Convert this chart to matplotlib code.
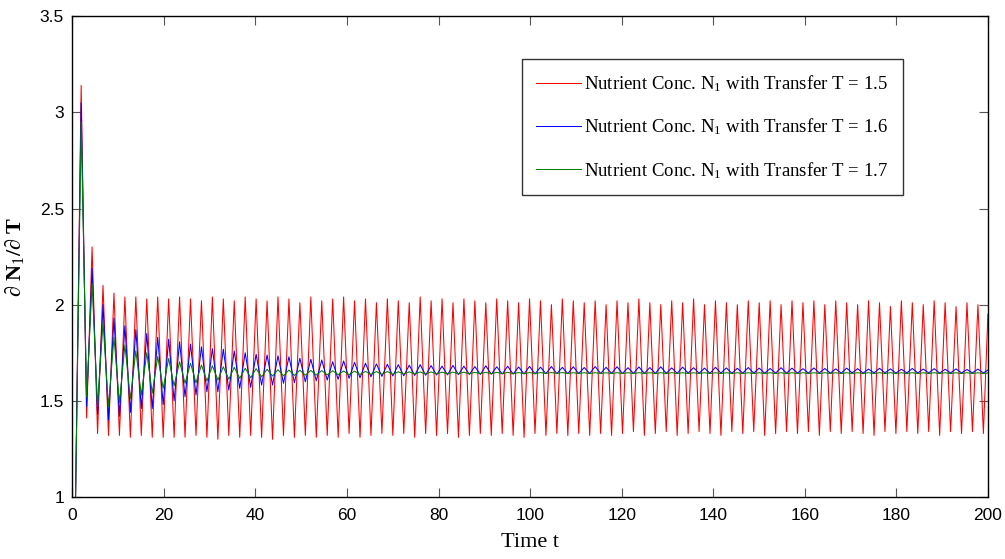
import numpy as np
import matplotlib.pyplot as plt

plt.rcParams['mathtext.fontset'] = 'custom'
plt.rcParams['mathtext.rm'] = 'Liberation Serif'
plt.rcParams['mathtext.it'] = 'Liberation Serif:italic'
plt.rcParams['mathtext.bf'] = 'Liberation Serif:bold'

# extrema of the oscillations: first peak time and period (time units)
first_peak = 1.92
period = 2.389
t_start, t_end = 0.7, 200.0

# peak / trough values for T = 1.5
red_peaks = [3.14, 2.30, 2.10, 2.06, 2.04, 2.04, 2.03, 2.04, 2.03,
             2.04, 2.03, 2.02, 2.04, 2.03, 2.02, 2.04, 2.03, 2.02, 2.04,
             2.03, 2.01, 2.04, 2.02, 2.03, 2.04, 2.02, 2.03, 2.01,
             2.03, 2.02, 2.01, 2.04, 2.02, 2.03, 2.01, 2.03, 2.02, 2.01,
             2.03, 2.02, 2.01, 2.03, 2.02, 2.00, 2.03, 2.02, 2.01,
             2.02, 2.00, 2.02, 2.01, 2.03, 2.01, 2.00, 2.02, 2.01, 2.03,
             2.00, 2.02, 2.01, 2.00, 2.02, 2.01, 2.02, 2.00,
             2.02, 2.01, 2.02, 2.00, 2.02, 2.01, 2.00, 2.02, 2.01, 1.99,
             2.02, 2.01, 2.00, 2.02, 2.01, 1.99, 2.01, 2.00]
red_troughs = [1.41, 1.33, 1.32, 1.32, 1.31, 1.32, 1.31, 1.31, 1.31,
               1.31, 1.32, 1.31, 1.30, 1.32, 1.31, 1.32, 1.31, 1.30, 1.32,
               1.31, 1.32, 1.31, 1.32, 1.31, 1.33, 1.31, 1.32, 1.33,
               1.32, 1.33, 1.31, 1.33, 1.32, 1.33, 1.31, 1.32, 1.33, 1.32,
               1.33, 1.32, 1.31, 1.33, 1.32, 1.33, 1.32, 1.33, 1.32,
               1.33, 1.32, 1.33, 1.34, 1.32, 1.33, 1.34, 1.32, 1.33, 1.34,
               1.33, 1.32, 1.34, 1.33, 1.34, 1.32, 1.33, 1.34,
               1.33, 1.34, 1.32, 1.34, 1.33, 1.34, 1.33, 1.32, 1.34, 1.33,
               1.34, 1.33, 1.34, 1.32, 1.34, 1.33, 1.34, 1.33]

# peak / trough values for T = 1.6
blue_peaks = [3.05, 2.19, 2.00, 1.93, 1.89, 1.87, 1.85, 1.83, 1.82,
              1.807, 1.795, 1.781, 1.771, 1.768, 1.759, 1.750, 1.742, 1.738, 1.734,
              1.729, 1.721, 1.716, 1.712, 1.703, 1.707, 1.700, 1.695, 1.692,
              1.690, 1.688, 1.685, 1.688, 1.683, 1.680, 1.684, 1.680, 1.678, 1.682,
              1.677, 1.680, 1.676, 1.679, 1.675, 1.678, 1.674, 1.677, 1.673,
              1.678, 1.674, 1.677, 1.672, 1.676, 1.673, 1.677, 1.671, 1.675, 1.672,
              1.670, 1.674, 1.671, 1.669, 1.673, 1.670, 1.668, 1.672,
              1.670, 1.667, 1.671, 1.668, 1.666, 1.670, 1.667, 1.665, 1.669, 1.666,
              1.664, 1.668, 1.665, 1.667, 1.664, 1.666, 1.663, 1.665]
blue_troughs = [1.47, 1.43, 1.40, 1.42, 1.44, 1.46, 1.46, 1.48, 1.50,
                1.521, 1.530, 1.547, 1.547, 1.556, 1.565, 1.570, 1.582, 1.582, 1.591,
                1.594, 1.599, 1.604, 1.608, 1.612, 1.617, 1.620, 1.625, 1.627,
                1.629, 1.630, 1.632, 1.633, 1.634, 1.635, 1.636, 1.637, 1.637, 1.638,
                1.639, 1.639, 1.640, 1.640, 1.641, 1.641, 1.641, 1.642, 1.642,
                1.642, 1.643, 1.642, 1.643, 1.643, 1.642, 1.643, 1.643, 1.644, 1.643,
                1.643, 1.644, 1.643, 1.644, 1.644, 1.643, 1.644, 1.644,
                1.644, 1.644, 1.645, 1.644, 1.644, 1.645, 1.644, 1.645, 1.645, 1.644,
                1.645, 1.645, 1.645, 1.644, 1.645, 1.645, 1.645, 1.645]

# peak / trough values for T = 1.7
green_peaks = [2.95, 2.11, 1.91, 1.83, 1.79, 1.76, 1.75, 1.73, 1.72,
               1.703, 1.695, 1.686, 1.682, 1.677, 1.674, 1.669, 1.667, 1.664, 1.662,
               1.660, 1.659, 1.658, 1.657, 1.656, 1.655, 1.654, 1.653, 1.652,
               1.652, 1.651, 1.651, 1.650, 1.650, 1.649, 1.649, 1.649, 1.648, 1.648,
               1.648, 1.648, 1.647, 1.647, 1.647, 1.647, 1.647, 1.646, 1.646,
               1.646, 1.646, 1.646, 1.646, 1.646, 1.646, 1.646, 1.646, 1.646, 1.646,
               1.646, 1.646, 1.646, 1.646, 1.646, 1.646, 1.646, 1.646,
               1.646, 1.646, 1.646, 1.646, 1.646, 1.646, 1.646, 1.646, 1.646, 1.646,
               1.646, 1.646, 1.646, 1.646, 1.646, 1.646, 1.646, 1.646]
green_troughs = [1.52, 1.47, 1.47, 1.49, 1.51, 1.53, 1.54, 1.565, 1.578,
                 1.591, 1.594, 1.603, 1.608, 1.612, 1.617, 1.620, 1.625, 1.629, 1.630,
                 1.632, 1.633, 1.634, 1.635, 1.636, 1.636, 1.637, 1.637, 1.638,
                 1.638, 1.639, 1.639, 1.639, 1.640, 1.640, 1.640, 1.640, 1.641, 1.641,
                 1.641, 1.641, 1.641, 1.641, 1.642, 1.642, 1.642, 1.642, 1.642,
                 1.642, 1.642, 1.642, 1.642, 1.642, 1.642, 1.642, 1.642, 1.642, 1.642,
                 1.642, 1.642, 1.642, 1.642, 1.642, 1.642, 1.642, 1.642,
                 1.642, 1.642, 1.642, 1.642, 1.642, 1.642, 1.642, 1.642, 1.642, 1.642,
                 1.642, 1.642, 1.642, 1.642, 1.642, 1.642, 1.642, 1.642]

# end values at t = 200
end_vals = {'r': 1.95, 'b': 1.66, 'g': 1.645}

labels = ['Nutrient Conc. N$_1$ with Transfer T = 1.5',
          'Nutrient Conc. N$_1$ with Transfer T = 1.6',
          'Nutrient Conc. N$_1$ with Transfer T = 1.7']


def build(peaks, troughs, end):
    n = len(peaks)
    t_pk = first_peak + period * np.arange(n)
    t_tr = t_pk + period / 2
    t = np.empty(2 * n)
    y = np.empty(2 * n)
    t[0::2], t[1::2] = t_pk, t_tr
    y[0::2], y[1::2] = peaks, troughs
    t = np.concatenate([[t_start], t, [t_end]])
    y = np.concatenate([[1.0], y, [end]])
    return t, y


fig = plt.figure(figsize=(10.05, 5.59), dpi=100)
ax = fig.add_axes([0.072, 0.111, 0.911, 0.86])

series = [(red_peaks, red_troughs, 'r', '#ff0000'),
          (blue_peaks, blue_troughs, 'b', '#0000ff'),
          (green_peaks, green_troughs, 'g', '#008000')]
for (pk, tr, key, col), lab in zip(series, labels):
    t, y = build(pk, tr, end_vals[key])
    ax.plot(t, y, color=col, lw=0.75, label=lab)

ax.set_xlim(0, 200)
ax.set_ylim(1, 3.5)
ax.set_xticks(np.arange(0, 201, 20))
ax.set_yticks([1, 1.5, 2, 2.5, 3, 3.5])
ax.set_yticklabels(['1', '1.5', '2', '2.5', '3', '3.5'])
ax.tick_params(direction='in', length=6.5, width=0.8, color='#555555',
               top=True, right=True, labelsize=12.5)
ax.tick_params(axis='x', pad=8)
ax.tick_params(axis='y', pad=6)
for lab in ax.get_xticklabels() + ax.get_yticklabels():
    lab.set_fontfamily('Liberation Sans')
for sp in ax.spines.values():
    sp.set_linewidth(1.0)
    sp.set_color('black')

ax.set_xlabel('Time t', fontsize=16, fontfamily='Liberation Serif', labelpad=7)
ax.set_ylabel('∂ N$_1$/∂ T', fontsize=16, fontfamily='Liberation Serif',
              fontweight='bold', labelpad=10)

leg = ax.legend(loc='upper left', bbox_to_anchor=(0.4907, 0.91),
                prop={'family': 'Liberation Serif', 'size': 13.5},
                frameon=True, fancybox=False, handlelength=2.4,
                handletextpad=0.2, labelspacing=1.2, borderpad=0.75,
                borderaxespad=0)
leg.get_frame().set_edgecolor('black')
leg.get_frame().set_linewidth(1.0)

fig.savefig('out.png', dpi=100)
